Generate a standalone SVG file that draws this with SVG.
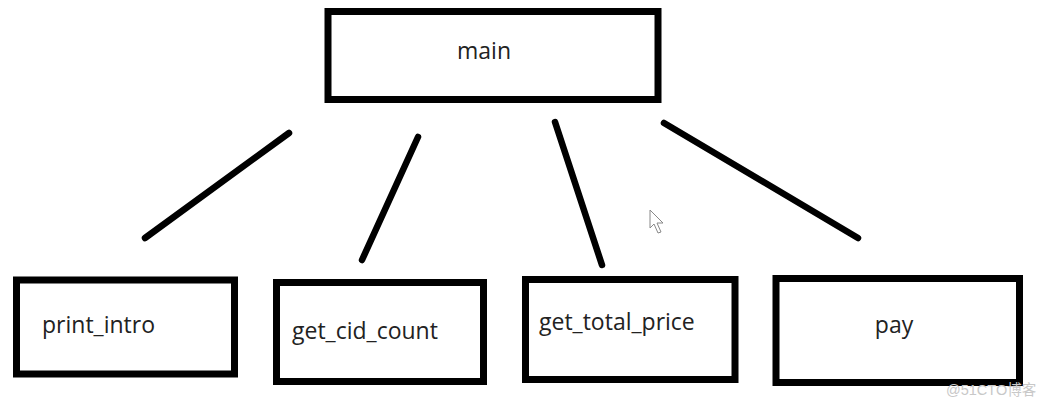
<svg xmlns="http://www.w3.org/2000/svg" width="1044" height="406" viewBox="0 0 1044 406">
<style>
.box{fill:#fff;stroke:#000;stroke-width:7}
.lbl{font-family:"Open Sans","Noto Sans",sans-serif;font-size:23px;fill:#222}
.edge{stroke:#000;stroke-width:6.5;stroke-linecap:round;fill:none}
.wm{font-family:"Liberation Sans","Noto Sans CJK SC",sans-serif;font-size:14.5px;fill:#c8c8c8}
</style>
<rect width="1044" height="406" fill="#fff"/>
<g id="connectors">
<line class="edge" x1="145" y1="238" x2="289" y2="133"/>
<line class="edge" x1="362" y1="260" x2="418" y2="137"/>
<line class="edge" x1="555" y1="122" x2="602" y2="265"/>
<line class="edge" x1="664" y1="123" x2="858" y2="238"/>
</g>
<g id="main">
<rect class="box" x="328" y="11.5" width="330" height="88"/>
<text class="lbl" x="484" y="59" text-anchor="middle">main</text>
</g>
<g id="print_intro">
<rect class="box" x="16.5" y="280" width="218" height="94"/>
<text class="lbl" x="42" y="333">print_intro</text>
</g>
<g id="get_cid_count">
<rect class="box" x="276.5" y="282.5" width="207" height="99"/>
<text class="lbl" x="292" y="339">get_cid_count</text>
</g>
<g id="get_total_price">
<rect class="box" x="525.5" y="279.5" width="209.5" height="100"/>
<text class="lbl" x="539" y="330">get_total_price</text>
</g>
<g id="pay">
<rect class="box" x="776" y="278.5" width="243.5" height="104"/>
<text class="lbl" x="894" y="333" text-anchor="middle">pay</text>
</g>
<path d="M650 210 L650 228 L654 224 L658 233 L661 232 L657 223 L663 223 Z" fill="#fff" stroke="#888" stroke-width="1"/>
<text class="wm" x="946" y="395">@51CTO博客</text>
</svg>
